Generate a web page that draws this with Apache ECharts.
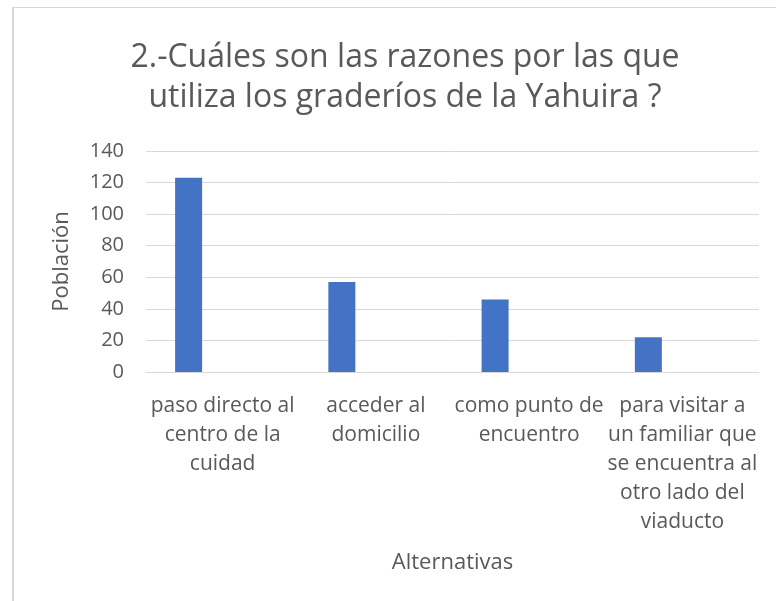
<!DOCTYPE html>
<html>
<head>
<meta charset="utf-8">
<script src="https://cdn.jsdelivr.net/npm/echarts@6/dist/echarts.min.js"></script>
<style>html,body{margin:0;padding:0;background:#fff}#c{width:776px;height:601px}</style>
</head>
<body>
<div id="c"></div>
<script>
const titleText = '2.-Cuáles son las razones por las que\nutiliza los graderíos de la Yahuira ?';
const categories = [
  'paso directo al\ncentro de la\ncuidad',
  'acceder al\ndomicilio',
  'como punto de\nencuentro',
  'para visitar a\nun familiar que\nse encuentra al\notro lado del\nviaducto'
];
const poblacion = [123, 57, 46, 22];
const emptySeries = [null, null, null, null];
const yTicks = { min: 0, max: 140, interval: 20 };
const xAxisName = 'Alternativas';
const yAxisName = 'Población';

const FONT = 'Open Sans';
const GREY = '#595959';
const chart = echarts.init(document.getElementById('c'), null, { renderer: 'canvas' });
chart.setOption({
  backgroundColor: '#ffffff',
  animation: false,
  graphic: [
    { type: 'line', shape: { x1: 13, y1: 7, x2: 13, y2: 601 }, style: { stroke: '#d9d9d9', lineWidth: 2 } },
    { type: 'line', shape: { x1: 12, y1: 7.5, x2: 776, y2: 7.5 }, style: { stroke: '#d9d9d9', lineWidth: 1 } }
  ],
  title: {
    text: titleText,
    left: 400,
    top: 33,
    textAlign: 'center',
    textStyle: { fontFamily: FONT, fontSize: 32, fontWeight: 'normal', color: GREY, lineHeight: 40 }
  },
  grid: { left: 146, right: 17, top: 151, bottom: 229, containLabel: false },
  xAxis: {
    type: 'category',
    data: categories,
    name: xAxisName,
    nameLocation: 'middle',
    nameGap: 180,
    nameTextStyle: { fontFamily: FONT, fontSize: 22, color: GREY },
    axisLine: { show: true, lineStyle: { color: '#d9d9d9', width: 1 } },
    axisTick: { show: false },
    axisLabel: { interval: 0, fontFamily: FONT, fontSize: 21, color: GREY, lineHeight: 29, margin: 20 }
  },
  yAxis: {
    type: 'value',
    min: yTicks.min,
    max: yTicks.max,
    interval: yTicks.interval,
    name: yAxisName,
    nameLocation: 'middle',
    nameGap: 73,
    nameTextStyle: { fontFamily: FONT, fontSize: 22, color: GREY },
    axisLine: { show: false },
    axisTick: { show: false },
    splitLine: { lineStyle: { color: '#d9d9d9', width: 1 } },
    axisLabel: { fontFamily: FONT, fontSize: 20, color: GREY, margin: 22 }
  },
  series: [
    { type: 'bar', data: poblacion, barWidth: 27, barGap: '152%', itemStyle: { color: '#4472c4' } },
    { type: 'bar', data: emptySeries, barWidth: 27, itemStyle: { color: '#ed7d31' } }
  ]
});
</script>
</body>
</html>
